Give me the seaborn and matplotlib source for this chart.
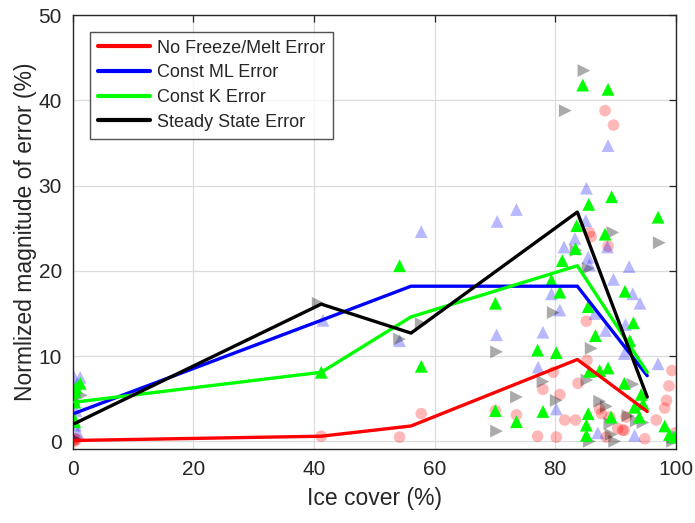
import matplotlib
matplotlib.use("Agg")
import matplotlib.pyplot as plt
import seaborn as sns
import pandas as pd

# Binned mean error curves
line_ice = [0.3, 41.2, 56.1, 83.7, 95.3]
no_freeze_melt = [0.1, 0.6, 1.8, 9.6, 3.5]
const_ml = [3.3, 14.2, 18.2, 18.2, 7.7]
const_k = [4.6, 8.1, 14.6, 20.6, 8.1]
steady_state = [2.1, 16.1, 12.7, 26.9, 5.2]

# Individual lake estimates: No Freeze/Melt error (circles)
red_ice = [0.0, 0.3, 0.6, 0.2, 41.2, 57.8, 54.2, 70.1, 73.6, 78.0, 80.8, 77.1, 80.2,
           81.6, 83.4, 79.7, 85.7, 86.0, 88.8, 88.3, 89.7, 85.2, 85.3, 83.8, 87.7,
           89.1, 91.8, 91.5, 96.8, 94.9, 88.5, 99.4, 98.9, 98.5, 98.2, 87.4, 90.4,
           91.2, 100.0]
red_err = [0.1, 0.3, 0.2, 0.0, 0.6, 3.25, 0.5, 3.6, 3.1, 6.1, 5.5, 0.6, 0.5,
           2.5, 2.5, 8.1, 24.5, 24.0, 22.9, 38.8, 37.1, 14.1, 9.5, 6.8, 3.25,
           2.85, 2.85, 1.3, 2.5, 0.3, 0.5, 8.3, 6.5, 4.8, 3.9, 3.8, 1.5,
           1.3, 1.0]

# Const ML error (upward triangles)
blue_ice = [0.2, 1.2, 0.3, 0.5, 0.4, 0.8, 0.2, 0.0, 41.5, 57.8, 54.2, 70.3, 70.4,
            73.6, 78.0, 77.2, 80.2, 79.4, 80.8, 81.5, 83.3, 85.1, 85.2, 88.8, 85.5,
            85.7, 92.3, 89.7, 92.9, 94.1, 91.7, 86.6, 88.4, 91.5, 97.1, 87.1, 93.2,
            99.5, 88.7]
blue_err = [7.5, 7.5, 6.0, 3.6, 1.9, 1.0, 5.0, 2.5, 14.2, 24.6, 11.8, 12.5, 25.8,
            27.2, 12.8, 8.7, 3.8, 17.3, 15.4, 22.8, 23.8, 25.9, 29.7, 34.7, 21.6,
            20.7, 20.5, 19.0, 17.3, 16.2, 13.7, 15.0, 13.0, 10.3, 9.1, 1.0, 0.7,
            0.5, 22.8]

# Const K error (upward triangles)
green_ice = [1.2, 0.3, 0.3, 0.05, 0.3, 0.5, 41.2, 54.2, 57.8, 70.1, 70.1, 73.6,
             77.1, 80.2, 78.0, 79.4, 80.8, 81.2, 83.6, 83.4, 84.6, 88.8, 89.4, 85.6,
             97.1, 88.3, 91.6, 93.0, 85.5, 86.7, 92.4, 85.7, 87.4, 88.8, 91.5, 94.3,
             94.6, 93.2, 85.5, 89.3, 85.2, 85.2, 94.0, 98.2, 99.0, 99.8]
green_err = [6.8, 5.8, 4.6, 2.85, 2.3, 6.3, 8.1, 20.6, 8.8, 16.2, 3.6, 2.3,
             10.7, 10.4, 3.5, 18.9, 17.5, 21.2, 25.3, 22.6, 41.8, 41.3, 28.7, 27.8,
             26.3, 24.3, 17.6, 13.9, 15.8, 12.4, 11.8, 8.2, 8.3, 8.6, 6.8, 5.5,
             4.4, 4.0, 3.25, 2.85, 1.9, 0.7, 2.85, 1.8, 0.8, 0.5]

# Steady state error (right-pointing triangles)
gray_ice = [1.4, 0.2, 40.7, 57.8, 54.2, 70.3, 70.3, 73.6, 78.0, 80.2, 79.7, 81.7,
            84.8, 89.6, 97.3, 83.5, 86.0, 85.3, 92.9, 87.4, 88.5, 93.5, 94.6, 92.1,
            89.3, 85.7, 89.9, 99.5, 85.5, 89.1]
gray_err = [5.4, 0.3, 16.2, 13.8, 12.0, 10.5, 1.2, 5.2, 7.0, 4.8, 15.1, 38.8,
            43.5, 24.5, 23.3, 22.4, 10.9, 7.2, 6.7, 4.7, 4.1, 2.4, 2.2, 3.0,
            0.8, 0.0, 0.0, 0.0, 20.3, 2.1]

series = ["No Freeze/Melt Error", "Const ML Error", "Const K Error", "Steady State Error"]
line_colors = ["#ff0000", "#0000ff", "#00ff00", "#000000"]

sns.set_style("white")
plt.rcParams["font.family"] = ["Liberation Sans", "DejaVu Sans"]

fig = plt.figure(figsize=(6.95, 5.23), dpi=100)
ax = fig.add_axes([0.105, 0.1415, 0.867, 0.8295])

pts = dict(edgecolor="none", legend=False, ax=ax, zorder=2)
sns.scatterplot(x=red_ice, y=red_err, marker="o", s=70, color="#ff0000", alpha=0.28, **pts)
sns.scatterplot(x=blue_ice, y=blue_err, marker="^", s=85, color="#0000ff", alpha=0.28, **pts)
sns.scatterplot(x=gray_ice, y=gray_err, marker=">", s=85, color="#000000", alpha=0.33, **pts)
sns.scatterplot(x=green_ice, y=green_err, marker="^", s=85, color="#00ff00", alpha=1.0, **pts)

curves = pd.DataFrame({
    "ice": line_ice * 4,
    "err": no_freeze_melt + const_ml + const_k + steady_state,
    "kind": [k for k in series for _ in line_ice],
})
sns.lineplot(data=curves, x="ice", y="err", hue="kind", hue_order=series,
             palette=line_colors, estimator=None, sort=False, lw=2.4, ax=ax, zorder=3)

ax.set_xlim(0, 100)
ax.set_ylim(-0.9, 50)
ax.set_xticks([0, 20, 40, 60, 80, 100])
ax.set_yticks([0, 10, 20, 30, 40, 50])
ax.grid(True, color="#dcdcdc", lw=0.9)
ax.set_axisbelow(True)
for sp in ax.spines.values():
    sp.set_color("#262626")
    sp.set_linewidth(1.0)
    sp.set_visible(True)
ax.tick_params(direction="in", length=5, width=0.9, color="#262626",
               top=True, right=True, labelsize=15, labelcolor="#262626", pad=8)
ax.set_xlabel("Ice cover (%)", fontsize=16.5, color="#262626", labelpad=6)
ax.set_ylabel("Normlized magnitude of error (%)", fontsize=16.5, color="#262626", labelpad=1)

leg = ax.legend(loc="upper left", bbox_to_anchor=(0.028, 0.962), fontsize=13,
                frameon=True, fancybox=False, handlelength=2.9, handletextpad=0.35,
                labelspacing=0.42, borderpad=0.45, borderaxespad=0.0)
leg.get_frame().set_edgecolor("#262626")
leg.get_frame().set_linewidth(1.0)
for h in leg.get_lines():
    h.set_linewidth(3.0)

fig.savefig("out.png", dpi=100)
